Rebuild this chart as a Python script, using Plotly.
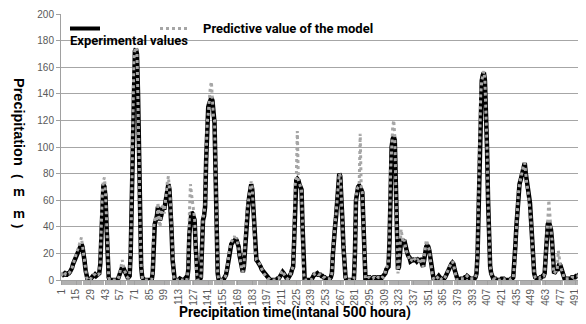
import plotly.graph_objects as go

# ---------------- data ----------------
time_index = list(range(1, 501))

experimental = [
    3, 4, 5, 5, 4, 4, 5, 5, 6, 7,
    9, 12, 14, 16, 19, 21, 23, 25, 27, 27,
    25, 21, 14, 7, 2, 0, 0, 0, 1, 3,
    3, 3, 4, 3, 4, 4, 5, 12, 40, 65,
    72, 70, 62, 40, 15, 2, 0, 0, 0, 0,
    0, 0, 0, 0, 1, 3, 6, 9, 10, 9,
    7, 5, 3, 2, 2, 3, 20, 60, 120, 165,
    172, 174, 170, 140, 90, 40, 10, 2, 0, 0,
    0, 0, 0, 0, 0, 0, 0, 5, 38, 42,
    45, 48, 55, 50, 45, 48, 52, 55, 53, 58,
    65, 70, 72, 68, 55, 37, 15, 3, 0, 0,
    0, 0, 0, 1, 0, 0, 0, 0, 1, 0,
    1, 8, 35, 50, 51, 50, 48, 45, 25, 5,
    0, 0, 0, 2, 30, 45, 48, 55, 90, 120,
    130, 133, 136, 137, 135, 125, 118, 80, 30, 5,
    0, 0, 0, 0, 0, 1, 2, 4, 8, 14,
    20, 25, 27, 28, 30, 29, 31, 30, 27, 25,
    18, 12, 8, 6, 10, 25, 40, 50, 55, 62,
    70, 72, 68, 55, 38, 20, 15, 14, 13, 12,
    10, 8, 7, 5, 4, 3, 2, 1, 1, 0,
    0, 0, 0, 0, 0, 0, 1, 1, 2, 3,
    5, 6, 5, 3, 2, 1, 1, 2, 3, 5,
    8, 10, 30, 70, 75, 76, 75, 72, 70, 68,
    40, 5, 0, 0, 0, 0, 0, 0, 0, 1,
    3, 4, 4, 5, 5, 4, 4, 4, 3, 3,
    2, 2, 1, 1, 1, 1, 1, 2, 5, 20,
    35, 40, 48, 60, 72, 80, 78, 65, 45, 25,
    8, 2, 0, 0, 0, 0, 0, 0, 0, 1,
    20, 60, 68, 70, 71, 70, 68, 66, 45, 10,
    1, 1, 1, 2, 2, 1, 1, 1, 2, 2,
    1, 1, 2, 2, 2, 1, 2, 2, 3, 5,
    8, 10, 10, 30, 80, 100, 106, 108, 105, 70,
    25, 8, 10, 22, 30, 31, 28, 30, 25, 22,
    20, 18, 17, 14, 15, 15, 14, 16, 15, 14,
    15, 14, 16, 15, 12, 10, 15, 22, 25, 26,
    25, 22, 15, 8, 3, 1, 0, 0, 1, 2,
    3, 2, 1, 0, 1, 1, 2, 4, 6, 8,
    10, 11, 12, 13, 12, 8, 4, 1, 0, 0,
    0, 1, 1, 1, 1, 2, 2, 3, 2, 2,
    1, 1, 1, 1, 1, 2, 5, 20, 60, 110,
    140, 150, 154, 156, 150, 130, 100, 60, 25, 10,
    5, 2, 1, 1, 1, 0, 0, 0, 0, 0,
    1, 1, 1, 0, 0, 0, 0, 0, 0, 1,
    1, 2, 10, 25, 40, 55, 65, 72, 75, 78,
    80, 86, 88, 80, 75, 70, 62, 58, 45, 30,
    15, 5, 2, 1, 1, 1, 1, 2, 2, 3,
    3, 5, 20, 35, 42, 44, 42, 38, 30, 10,
    5, 6, 8, 7, 10, 12, 11, 8, 5, 2,
    1, 1, 1, 1, 1, 1, 1, 2, 2, 2,
    2, 3, 3, 3, 4, 4, 5, 5, 6, 16,
]

predicted = [
    3, 5, 5, 6, 4, 4, 5, 5, 6, 7,
    9, 12, 14, 17, 20, 22, 24, 27, 30, 32,
    26, 20, 14, 7, 2, 0, 0, 0, 1, 3,
    3, 4, 4, 3, 4, 4, 5, 14, 42, 68,
    75, 77, 65, 42, 15, 2, 0, 0, 0, 0,
    0, 0, 0, 0, 1, 3, 7, 11, 15, 10,
    7, 5, 3, 2, 2, 3, 22, 62, 122, 166,
    173, 175, 172, 142, 92, 42, 10, 2, 0, 0,
    0, 0, 0, 0, 0, 0, 0, 5, 40, 45,
    48, 44, 58, 47, 40, 50, 55, 57, 50, 60,
    66, 74, 78, 70, 57, 38, 15, 3, 0, 0,
    0, 0, 0, 1, 0, 0, 0, 0, 1, 0,
    1, 10, 50, 72, 65, 58, 50, 46, 26, 5,
    0, 0, 0, 2, 32, 46, 50, 58, 92, 118,
    125, 140, 145, 149, 128, 122, 120, 82, 30, 5,
    0, 0, 0, 0, 0, 1, 2, 4, 8, 14,
    21, 26, 28, 30, 32, 33, 30, 32, 28, 25,
    18, 12, 8, 6, 10, 25, 40, 50, 57, 64,
    71, 74, 69, 56, 38, 20, 15, 14, 13, 12,
    10, 8, 7, 5, 4, 3, 2, 1, 1, 0,
    0, 0, 0, 0, 0, 0, 1, 1, 2, 3,
    6, 7, 5, 3, 2, 1, 1, 2, 3, 6,
    8, 10, 32, 72, 76, 112, 75, 72, 70, 68,
    40, 5, 0, 0, 0, 0, 0, 0, 0, 1,
    3, 4, 5, 5, 5, 4, 4, 4, 3, 3,
    2, 2, 1, 1, 1, 1, 1, 2, 5, 21,
    36, 41, 50, 62, 74, 80, 78, 65, 45, 25,
    8, 2, 0, 0, 0, 0, 0, 0, 0, 1,
    20, 60, 68, 70, 71, 110, 68, 66, 45, 10,
    1, 1, 1, 2, 2, 1, 1, 1, 2, 2,
    1, 1, 2, 2, 2, 1, 2, 2, 3, 6,
    9, 11, 12, 32, 82, 102, 115, 120, 108, 70,
    20, 5, 12, 28, 38, 33, 28, 30, 25, 22,
    20, 18, 17, 14, 15, 15, 14, 16, 15, 14,
    15, 14, 16, 15, 12, 10, 16, 24, 30, 28,
    25, 22, 15, 8, 3, 1, 0, 0, 1, 2,
    3, 2, 1, 0, 1, 1, 2, 4, 6, 8,
    10, 11, 13, 14, 12, 8, 4, 1, 0, 0,
    0, 1, 1, 1, 1, 2, 2, 3, 2, 2,
    1, 1, 1, 1, 1, 2, 5, 20, 60, 110,
    140, 150, 155, 157, 150, 130, 100, 60, 25, 10,
    5, 2, 1, 1, 1, 0, 0, 0, 0, 0,
    1, 1, 1, 0, 0, 0, 0, 0, 0, 1,
    1, 2, 10, 25, 40, 55, 65, 72, 76, 80,
    82, 87, 88, 78, 72, 68, 60, 56, 45, 30,
    15, 5, 2, 1, 1, 1, 1, 2, 2, 3,
    3, 5, 22, 38, 45, 60, 45, 38, 30, 10,
    5, 6, 8, 8, 22, 14, 11, 8, 5, 2,
    1, 1, 1, 1, 1, 1, 1, 2, 2, 2,
    2, 3, 3, 3, 4, 4, 5, 5, 6, 16,
]

tick_labels = ["1", "15", "29", "43", "57", "71", "85", "99", "113", "127",
               "141", "155", "169", "183", "197", "211", "225", "239", "253",
               "267", "281", "295", "309", "323", "337", "351", "365", "379",
               "393", "407", "421", "435", "449", "463", "477", "491"]
tick_positions = [int(t) for t in tick_labels]

legend_experimental = "Experimental values"
legend_predicted = "Predictive value of the model"
x_title = "Precipitation time(intanal 500 houra)"

# ---------------- figure ----------------
# The page body has an 8px default margin, so the figure is 8px smaller
# and all positions below are page pixels converted to figure pixels.
OFF = 8
W, H = 586 - OFF, 324 - OFF
ML, MR, MT, MB = 61 - OFF, 1, 14 - OFF, 44
PW, PH = W - ML - MR, H - MT - MB


def px(xp):
    return (xp - OFF - ML) / PW


def py(yp):
    return (H - MB - (yp - OFF)) / PH


BOLD = "Liberation Sans Narrow, Roboto, Arial, sans-serif"
BOLD_WIDE = "Liberation Sans, Arial, sans-serif"
TICKF = "Liberation Sans, Arial, sans-serif"

fig = go.Figure()
fig.add_trace(go.Scatter(
    x=time_index, y=experimental, mode="lines", name=legend_experimental,
    line=dict(color="#000000", width=4.5), showlegend=False,
))
fig.add_trace(go.Scatter(
    x=time_index, y=predicted, mode="lines", name=legend_predicted,
    line=dict(color="#a6a6a6", width=3, dash="dot"), showlegend=False,
))

shapes = [
    dict(type="line", xref="paper", yref="paper", x0=px(70), x1=px(100),
         y0=py(28.5), y1=py(28.5), line=dict(color="#000000", width=4)),
    dict(type="line", xref="paper", yref="paper", x0=px(160), x1=px(188),
         y0=py(28.5), y1=py(28.5), line=dict(color="#a6a6a6", width=3, dash="dot")),
]

annotations = [
    dict(text="<b>%s</b>" % legend_experimental, xref="paper", yref="paper",
         x=px(68), y=py(41), xanchor="left", yanchor="middle", showarrow=False,
         font=dict(family=BOLD, size=13, color="#000000")),
    dict(text="<b>%s</b>" % legend_predicted, xref="paper", yref="paper",
         x=px(201), y=py(29), xanchor="left", yanchor="middle", showarrow=False,
         font=dict(family=BOLD, size=13, color="#000000")),
    dict(text="<b>%s</b>" % x_title, xref="paper", yref="paper",
         x=px(295), y=py(312), xanchor="center", yanchor="middle", showarrow=False,
         font=dict(family=BOLD, size=14, color="#000000")),
    dict(text="<b>Precipitation</b>", xref="paper", yref="paper",
         x=px(19), y=py(122), xanchor="center", yanchor="middle", showarrow=False,
         textangle=90, font=dict(family=BOLD_WIDE, size=14.5, color="#000000")),
    dict(text="<b>(</b>", xref="paper", yref="paper",
         x=px(19), y=py(176), xanchor="center", yanchor="middle", showarrow=False,
         textangle=90, font=dict(family=BOLD_WIDE, size=13.5, color="#000000")),
    dict(text="<b>m</b>", xref="paper", yref="paper",
         x=px(19), y=py(191), xanchor="center", yanchor="middle", showarrow=False,
         font=dict(family=BOLD_WIDE, size=13.5, color="#000000")),
    dict(text="<b>m</b>", xref="paper", yref="paper",
         x=px(19), y=py(213), xanchor="center", yanchor="middle", showarrow=False,
         font=dict(family=BOLD_WIDE, size=13.5, color="#000000")),
    dict(text="<b>)</b>", xref="paper", yref="paper",
         x=px(19), y=py(226), xanchor="center", yanchor="middle", showarrow=False,
         textangle=90, font=dict(family=BOLD_WIDE, size=13.5, color="#000000")),
]

fig.update_layout(
    width=W, height=H,
    margin=dict(l=ML, r=MR, t=MT, b=MB, pad=0, autoexpand=False),
    paper_bgcolor="#ffffff", plot_bgcolor="#ffffff",
    showlegend=False,
    shapes=shapes, annotations=annotations,
    xaxis=dict(
        range=[0.5, 500.5], tickmode="array", tickvals=tick_positions,
        ticktext=tick_labels, tickangle=-90, showgrid=False, zeroline=False,
        showline=True, linecolor="#a0a0a0", linewidth=1, automargin=False,
        ticks="outside", ticklen=4, tickcolor="#a0a0a0",
        tickfont=dict(family=TICKF, size=10, color="#595959"),
        minor=dict(dtick=1, tick0=0.5, ticks="outside", ticklen=4,
                   tickcolor="#b0b0b0", tickwidth=1, showgrid=False),
    ),
    yaxis=dict(
        range=[0, 200], dtick=20, showgrid=True, gridcolor="#a6a6a6",
        gridwidth=1, zeroline=False, showline=True, linecolor="#a0a0a0",
        linewidth=1, ticks="outside", ticklen=4, tickcolor="#a0a0a0",
        automargin=False,
        tickfont=dict(family=TICKF, size=10, color="#595959"),
    ),
)

fig.write_html("out.html")
